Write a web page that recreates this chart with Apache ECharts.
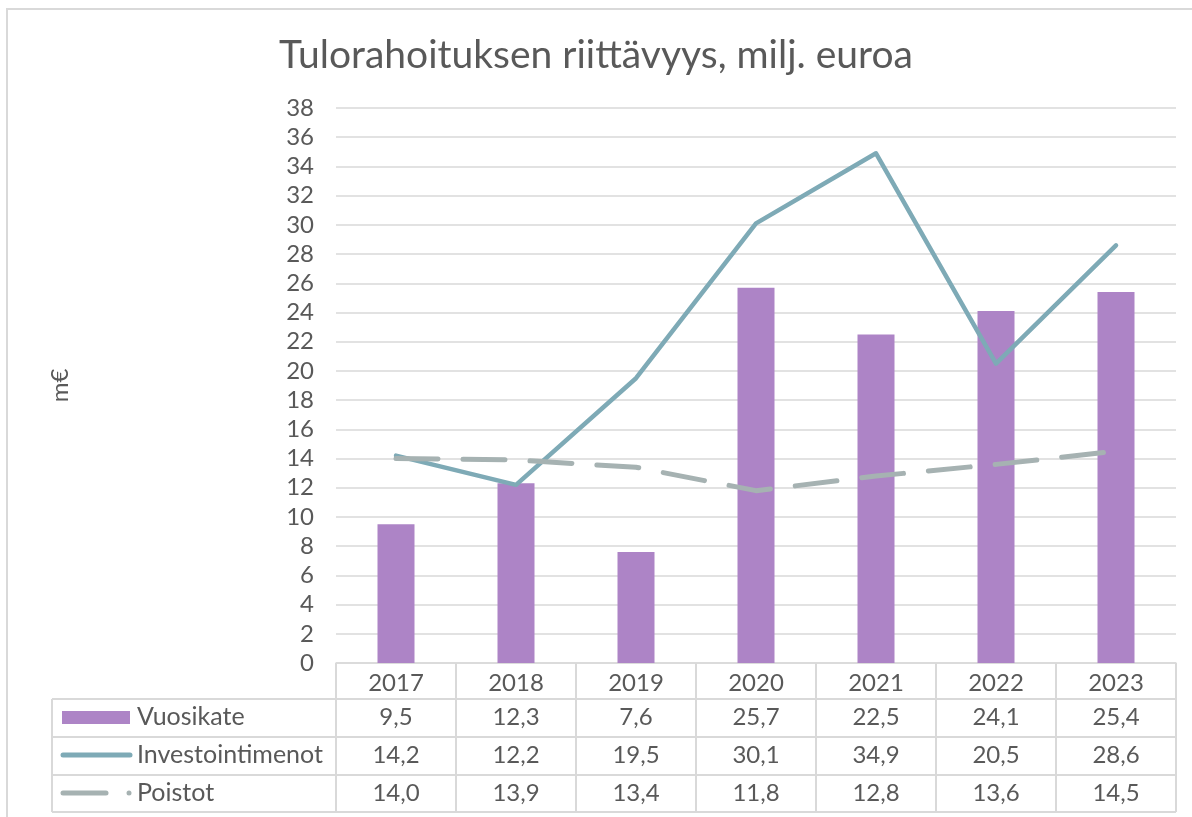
<!DOCTYPE html>
<html lang="fi">
<head>
    <meta charset="UTF-8">
    <title>Tulorahoituksen riittävyys</title>
    <script src="https://cdn.jsdelivr.net/npm/echarts@6/dist/echarts.min.js"></script>
    <style>
        html, body { margin: 0; padding: 0; background: #fff; }
    </style>
</head>
<body>
<div id="echarts" style="width: 1192px;height:817px"></div>
<script>
    // data
    var years = ['2017', '2018', '2019', '2020', '2021', '2022', '2023'];
    var vuosikate = [9.5, 12.3, 7.6, 25.7, 22.5, 24.1, 25.4];
    var investointimenot = [14.2, 12.2, 19.5, 30.1, 34.9, 20.5, 28.6];
    var poistot = [14.0, 13.9, 13.4, 11.8, 12.8, 13.6, 14.5];
    var seriesNames = ['Vuosikate', 'Investointimenot', 'Poistot'];

    var txt = '#595959';
    var lineCol = '#D9D9D9';
    var font = 'Lato';
    var fs = 24;
    var colors = ['#AD84C6', '#7EAAB6', '#A6B2B2'];

    var chartDom = document.getElementById('echarts');
    var myChart = echarts.init(chartDom);

    function fmt(v) {
        return v.toFixed(1).replace('.', ',');
    }

    var option = {
        animation: false,
        textStyle: { fontFamily: font },
        title: {
            text: 'Tulorahoituksen riittävyys, milj. euroa',
            left: 'center',
            top: 31,
            textStyle: { fontFamily: font, fontWeight: 'normal', fontSize: 39, color: txt }
        },
        grid: { left: 336, right: 16, top: 108, bottom: 154 },
        xAxis: {
            type: 'category',
            data: years,
            axisLine: { lineStyle: { color: lineCol, width: 1.5 } },
            axisTick: { show: false },
            axisLabel: { color: txt, fontSize: fs, margin: 8, fontFamily: font }
        },
        yAxis: {
            type: 'value',
            min: 0,
            max: 38,
            interval: 2,
            name: 'm€',
            nameLocation: 'middle',
            nameGap: 264,
            nameTextStyle: { color: txt, fontSize: fs, fontFamily: font },
            axisLine: { show: false },
            axisTick: { show: false },
            axisLabel: { color: txt, fontSize: fs, margin: 22, fontFamily: font },
            splitLine: { lineStyle: { color: lineCol, width: 1.5 } }
        },
        series: [
            {
                name: seriesNames[0],
                type: 'bar',
                data: vuosikate,
                barWidth: 37,
                itemStyle: { color: colors[0] }
            },
            {
                name: seriesNames[1],
                type: 'line',
                data: investointimenot,
                symbol: 'none',
                lineStyle: { color: colors[1], width: 4.5, join: 'round', cap: 'round' }
            },
            {
                name: seriesNames[2],
                type: 'line',
                data: poistot,
                symbol: 'none',
                lineStyle: { color: colors[2], width: 5, type: [42, 25], cap: 'round', join: 'round' }
            }
        ]
    };

    myChart.setOption(option);

    // data table under the chart
    var colLeft = 336, colW = 120, tableLeft = 52;
    var rowLines = [663, 699, 737, 775, 812];
    var rowMid = [717, 755, 793];
    var g = [];
    var ls = { stroke: lineCol, lineWidth: 2 };

    // outer border
    g.push({ type: 'rect', shape: { x: 7, y: 9, width: 1200, height: 900 }, style: { fill: null, stroke: lineCol, lineWidth: 2 }, silent: true });

    // horizontal lines
    for (var r = 1; r < rowLines.length; r++) {
        g.push({ type: 'line', shape: { x1: tableLeft, y1: rowLines[r], x2: colLeft + colW * years.length, y2: rowLines[r] }, style: ls });
    }
    // vertical lines
    for (var c = 0; c <= years.length; c++) {
        var xx = colLeft + colW * c;
        g.push({ type: 'line', shape: { x1: xx, y1: rowLines[0], x2: xx, y2: rowLines[4] }, style: ls });
    }
    g.push({ type: 'line', shape: { x1: tableLeft, y1: rowLines[1], x2: tableLeft, y2: rowLines[4] }, style: ls });

    // legend keys
    g.push({ type: 'rect', shape: { x: 62, y: rowMid[0] - 6, width: 68, height: 13 }, style: { fill: colors[0] } });
    g.push({ type: 'line', shape: { x1: 63, y1: rowMid[1], x2: 130, y2: rowMid[1] }, style: { stroke: colors[1], lineWidth: 5, lineCap: 'round' } });
    g.push({ type: 'line', shape: { x1: 63, y1: rowMid[2], x2: 106, y2: rowMid[2] }, style: { stroke: colors[2], lineWidth: 5, lineCap: 'round' } });
    g.push({ type: 'circle', shape: { cx: 129, cy: rowMid[2], r: 2.5 }, style: { fill: colors[2] } });

    var rows = [vuosikate, investointimenot, poistot];
    for (var i = 0; i < rows.length; i++) {
        g.push({
            type: 'text', x: 137, y: rowMid[i],
            style: { text: seriesNames[i], fill: txt, font: (fs + 1) + 'px ' + font, textVerticalAlign: 'middle', textAlign: 'left' }
        });
        for (var j = 0; j < years.length; j++) {
            var cx = myChart.convertToPixel({ xAxisIndex: 0 }, years[j]);
            g.push({
                type: 'text', x: cx, y: rowMid[i],
                style: { text: fmt(rows[i][j]), fill: txt, font: fs + 'px ' + font, textAlign: 'center', textVerticalAlign: 'middle' }
            });
        }
    }

    myChart.setOption({ graphic: g });
</script>
</body>
</html>
